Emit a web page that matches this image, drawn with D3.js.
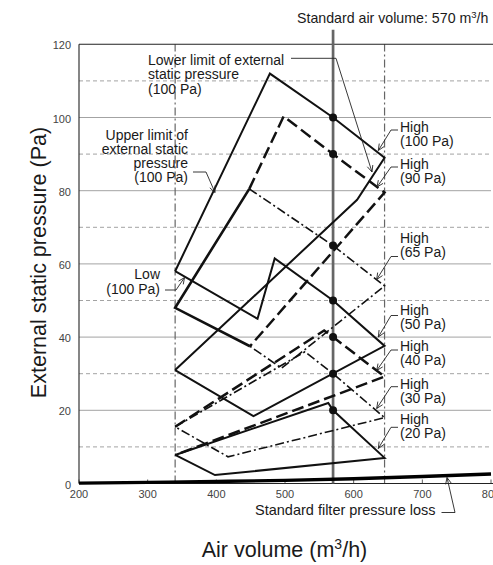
<!DOCTYPE html>
<html><head><meta charset="utf-8">
<script src="https://cdn.jsdelivr.net/npm/d3@7"></script>
<style>
body{margin:0;background:#fff}
svg{display:block}
text{font-family:"Liberation Sans",Arial,Helvetica,sans-serif;fill:#1a1a1a}
</style>
</head><body>
<svg id="c" width="493" height="565"></svg>
<script>
// ---------- data (air volume m3/h, external static pressure Pa) ----------
const xTicks = [200, 300, 400, 500, 600, 700, 800];
const yTicks = [0, 20, 40, 60, 80, 100, 120];
const gridSolid = [20, 40, 60, 80, 100];
const gridDashed = [10, 30, 50, 70, 90, 110];
const limitVolumes = [340, 645];
const standardVolume = 570;
const standardPressures = [100, 90, 65, 50, 40, 30, 20];

const curve100Upper = [[340,58],[478,112],[570,100],[645,89],[605,77.5],[340,31]];
const curve100Lower = [[340,58],[460,45],[485,61.5],[570,50],[645,37.6],[454,18.4],[340,31]];
const curveShared9065 = [[448,80.5],[340,48],[449,37.5]];
const curve90 = [[448,80.5],[498,100.3],[570,90],[645,79.5],[449,37.5]];
const curve65 = [[448,80.5],[570,65],[645,54],[495,31.5],[449,37.5]];
const curve40 = [[340,15.5],[557,41.8],[570,40],[645,29.2],[340,7.8]];
const curve30 = [[340,15.5],[529,36],[570,30],[645,18],[417,7.3],[340,15.5]];
const curve20 = [[340,7.8],[563,22],[570,20],[645,7],[398,2.3],[340,7.8]];
const filterLoss = [[200,0.1],[300,0.3],[400,0.55],[500,0.85],[600,1.3],[700,1.9],[800,2.6]];

const highLabels = ["100", "90", "65", "50", "40", "30", "20"];

// ---------- layout ----------
const svg = d3.select("#c");
const x = d3.scaleLinear().domain([200, 800]).range([79, 491]);
const y = d3.scaleLinear().domain([0, 120]).range([483.5, 44.3]);
const line = d3.line().x(d => x(d[0])).y(d => y(d[1]));

// grid
const g = svg.append("g");
g.selectAll(".gs").data(gridSolid).join("line")
  .attr("x1", x(200)).attr("x2", x(800)).attr("y1", d => y(d)).attr("y2", d => y(d))
  .attr("stroke", "#999").attr("stroke-width", 0.9);
g.selectAll(".gd").data(gridDashed).join("line")
  .attr("x1", x(200)).attr("x2", x(800)).attr("y1", d => y(d)).attr("y2", d => y(d))
  .attr("stroke", "#999").attr("stroke-width", 0.9).attr("stroke-dasharray", "4,3");

// limit verticals
g.selectAll(".lv").data(limitVolumes).join("line")
  .attr("x1", d => x(d)).attr("x2", d => x(d)).attr("y1", y(0)).attr("y2", y(120))
  .attr("stroke", "#666").attr("stroke-width", 1.2).attr("stroke-dasharray", "8,3,2,3");

// frame
g.append("line").attr("x1", x(200)).attr("x2", x(800) + 4).attr("y1", y(120)).attr("y2", y(120))
  .attr("stroke", "#222").attr("stroke-width", 1.1);
g.append("line").attr("x1", x(200)).attr("x2", x(200)).attr("y1", y(0)).attr("y2", y(120))
  .attr("stroke", "#222").attr("stroke-width", 1.1);
g.append("line").attr("x1", x(200)).attr("x2", x(800) + 4).attr("y1", y(0)).attr("y2", y(0))
  .attr("stroke", "#222").attr("stroke-width", 1);

// ticks
g.selectAll(".xt").data(xTicks).join("line")
  .attr("x1", d => x(d)).attr("x2", d => x(d)).attr("y1", y(0)).attr("y2", y(0) - 4)
  .attr("stroke", "#333").attr("stroke-width", 0.8);
g.selectAll(".xl").data(xTicks).join("text")
  .attr("x", d => x(d)).attr("y", y(0) + 14.5).attr("text-anchor", "middle")
  .attr("font-size", 11).style("fill", "#444").text(d => d);
g.selectAll(".yl").data(yTicks).join("text")
  .attr("x", x(200) - 8).attr("y", d => y(d) + 5).attr("text-anchor", "end")
  .attr("font-size", 11).style("fill", "#444").text(d => d);

// standard air volume line
g.append("line").attr("x1", x(standardVolume)).attr("x2", x(standardVolume))
  .attr("y1", y(0)).attr("y2", y(124))
  .attr("stroke", "#666").attr("stroke-width", 2.7);

// filter loss
g.append("path").attr("d", line.curve(d3.curveMonotoneX)(filterLoss))
  .attr("fill", "none").attr("stroke", "#000").attr("stroke-width", 3.4);
line.curve(d3.curveLinear);

// curves
function drawCurve(data, w, dash) {
  g.append("path").attr("d", line(data)).attr("fill", "none")
    .attr("stroke", "#111").attr("stroke-width", w)
    .attr("stroke-linejoin", "miter").attr("stroke-dasharray", dash || null);
}
drawCurve(curve100Upper, 2.0);
drawCurve(curve100Lower, 2.0);
drawCurve(curve20, 2.0);
drawCurve(curveShared9065, 2.6);
drawCurve(curve90, 2.5, "12,5");
drawCurve(curve40, 2.5, "12,5");
drawCurve(curve65, 1.6, "9,3,2,3");
drawCurve(curve30, 1.6, "9,3,2,3");

// standard points
g.selectAll(".dot").data(standardPressures).join("circle")
  .attr("cx", x(standardVolume)).attr("cy", d => y(d)).attr("r", 4).attr("fill", "#111");

// ---------- annotations ----------
const ann = svg.append("g");
function leader(pts) {
  ann.append("path").attr("d", "M" + pts.map(p => p.join(",")).join("L"))
    .attr("fill", "none").attr("stroke", "#222").attr("stroke-width", 0.9);
  const tip = pts[pts.length - 1], from = pts[pts.length - 2];
  const a = Math.atan2(from[1] - tip[1], from[0] - tip[0]);
  const L = 7, s = 0.42;
  const p1 = [tip[0] + L * Math.cos(a + s), tip[1] + L * Math.sin(a + s)];
  const p2 = [tip[0] + L * Math.cos(a - s), tip[1] + L * Math.sin(a - s)];
  ann.append("path").attr("d", `M${p1}L${tip}L${p2}`)
    .attr("fill", "none").attr("stroke", "#222").attr("stroke-width", 0.9);
}
function label(lines, xx, yy, anchor, size, gap) {
  const t = ann.append("text").attr("font-size", size || 14).attr("text-anchor", anchor || "start");
  lines.forEach((s, i) => t.append("tspan").attr("x", xx).attr("y", yy + i * (gap || 14)).text(s));
}

// High labels (layout: label baseline, leader start y, arrow tip)
const highLayout = [
  {b: 131.5, ly: 130, tip: [378.3, 150.5]},
  {b: 169,   ly: 167, tip: [377, 187]},
  {b: 242.5, ly: 256.5, tip: [376.7, 279.5]},
  {b: 315,   ly: 315.5, tip: [378.3, 337]},
  {b: 351,   ly: 350, tip: [376.7, 370.5]},
  {b: 388.5, ly: 386.7, tip: [376.7, 408.5]},
  {b: 423.5, ly: 427.3, tip: [378.3, 448.5]}
];
highLabels.forEach((v, i) => {
  const L = highLayout[i];
  label(["High", "(" + v + " Pa)"], 400, L.b, "start", 14, 14);
  leader([[398, L.ly], [391, L.ly], L.tip]);
});

// Lower limit
label(["Lower limit of external", "static pressure", "(100 Pa)"], 148, 65, "start", 14, 14.3);
leader([[291, 58.3], [336, 58.3], [372, 172]]);

// Upper limit
label(["Upper limit of", "external static", "pressure", "(100 Pa)"], 188, 140, "end", 14, 13.9);
leader([[193, 172], [206, 172], [215, 192.5]]);

// Low
label(["Low", "(100 Pa)"], 160, 278.5, "end", 14, 15);
leader([[165, 290], [176, 290], [184.5, 277.5]]);

// Filter loss
label(["Standard filter pressure loss"], 255, 515, "start", 14.5);
leader([[441.5, 512.5], [455, 512.5], [447, 477.5]]);

// Standard air volume
const sa = ann.append("text").attr("x", 297).attr("y", 23).attr("font-size", 14.2);
sa.append("tspan").text("Standard air volume: 570 m");
sa.append("tspan").attr("dy", -5).attr("font-size", 9.5).text("3");
sa.append("tspan").attr("dy", 5).text("/h");

// axis titles
const xt = ann.append("text").attr("x", 284.5).attr("y", 557).attr("text-anchor", "middle").attr("font-size", 21.5);
xt.append("tspan").text("Air volume (m");
xt.append("tspan").attr("dy", -8).attr("font-size", 14).text("3");
xt.append("tspan").attr("dy", 8).text("/h)");

ann.append("text").attr("transform", "translate(46,262.5) rotate(-90)")
  .attr("text-anchor", "middle").attr("font-size", 21.5).text("External static pressure (Pa)");
</script>
</body></html>
